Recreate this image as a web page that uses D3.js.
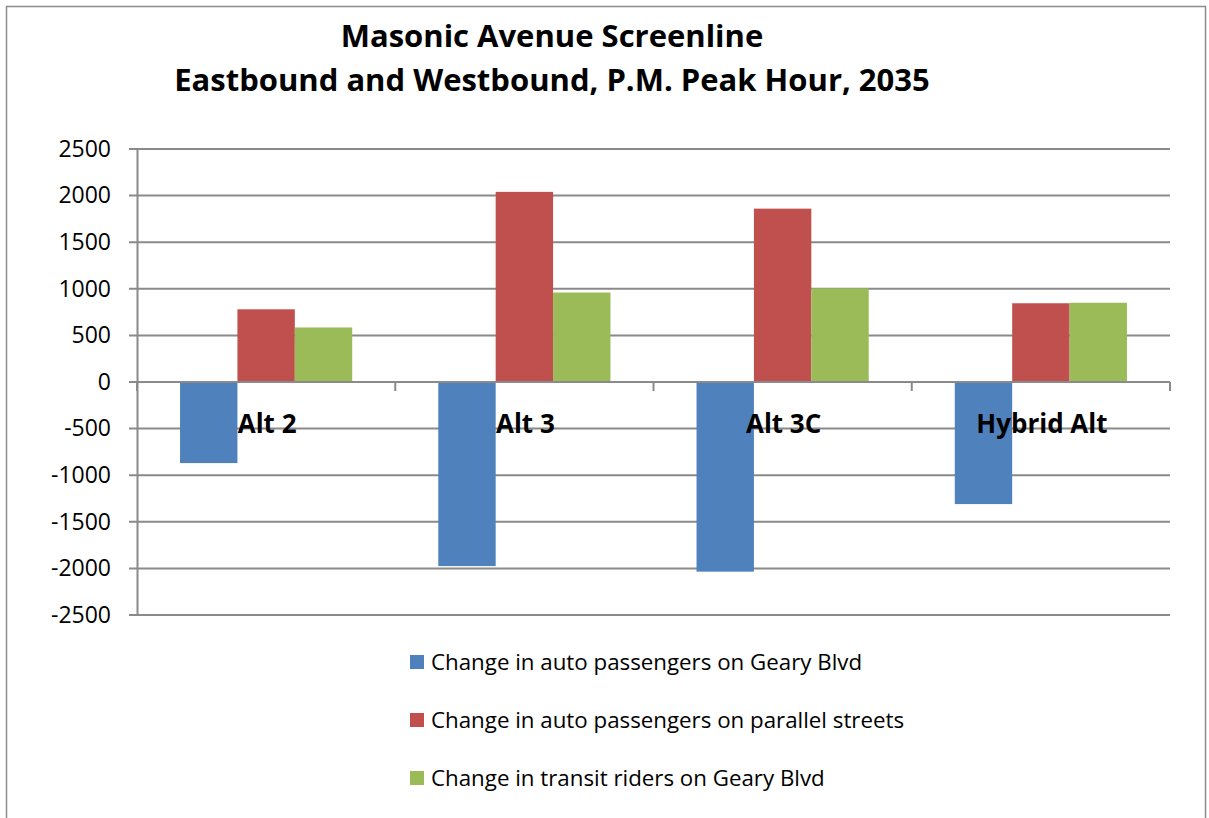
<!DOCTYPE html>
<html>
<head>
<meta charset="utf-8">
<script src="https://cdn.jsdelivr.net/npm/d3@7"></script>
<style>
  body { margin: 0; background: #fff; }
  text { font-family: "Open Sans", sans-serif; }
</style>
</head>
<body>
<div id="chart"></div>
<script>
var categories = ["Alt 2", "Alt 3", "Alt 3C", "Hybrid Alt"];
var series_names = [
  "Change in auto passengers on Geary Blvd",
  "Change in auto passengers on parallel streets",
  "Change in transit riders on Geary Blvd"
];
var auto_geary = [-870, -1975, -2035, -1310];
var auto_parallel = [780, 2040, 1860, 845];
var transit_geary = [585, 960, 1005, 850];
var y_ticks = [2500, 2000, 1500, 1000, 500, 0, -500, -1000, -1500, -2000, -2500];
var title_lines = ["Masonic Avenue Screenline", "Eastbound and Westbound, P.M. Peak Hour, 2035"];

var colors = ["#4F81BD", "#C0504D", "#9BBB59"];
var series = [auto_geary, auto_parallel, transit_geary];

var width = 1209, height = 818;
var plot = { left: 137, right: 1170, top: 149, bottom: 615 };

var svg = d3.select("#chart").append("svg")
  .attr("width", width)
  .attr("height", height);

// outer frame (bottom edge runs off the picture)
svg.append("rect")
  .attr("x", 6.5).attr("y", 6.5)
  .attr("width", 1199).attr("height", 830)
  .attr("fill", "#fff")
  .attr("stroke", "#8c8c8c")
  .attr("stroke-width", 1.5);

var title = svg.append("g").attr("font-weight", "bold").attr("font-size", 31).attr("text-anchor", "middle");
title_lines.forEach(function(line, i) {
  title.append("text").attr("x", 552).attr("y", 47 + i * 44).text(line);
});

var y = d3.scaleLinear().domain([-2500, 2500]).range([plot.bottom, plot.top]);
var x0 = d3.scaleBand().domain(categories).range([plot.left, plot.right]);
var bar_w = x0.bandwidth() / (3 + 1.5);
var x1 = d3.scaleBand().domain(d3.range(3)).range([bar_w * 0.75, bar_w * 3.75]);

// gridlines
svg.append("g").selectAll("line").data(y_ticks).enter().append("line")
  .attr("x1", plot.left - 8).attr("x2", plot.right)
  .attr("y1", function(d) { return y(d); })
  .attr("y2", function(d) { return y(d); })
  .attr("stroke", "#8a8a8a")
  .attr("stroke-width", 2);

// y axis, plain hyphen for negatives
var y_axis = svg.append("g")
  .attr("transform", "translate(" + plot.left + ",0)")
  .call(d3.axisLeft(y).tickValues(y_ticks).tickSize(0).tickPadding(26).tickFormat(function(d) { return String(d); }));
y_axis.select(".domain").attr("stroke", "#8a8a8a").attr("stroke-width", 2);
y_axis.selectAll("text").attr("font-size", 23).attr("font-family", "Open Sans").attr("fill", "#000");

// bars
var groups = svg.append("g").selectAll("g").data(categories).enter().append("g")
  .attr("transform", function(d) { return "translate(" + x0(d) + ",0)"; });

groups.selectAll("rect")
  .data(function(d, ci) { return series.map(function(s, si) { return { si: si, v: s[ci] }; }); })
  .enter().append("rect")
  .attr("x", function(d) { return x1(d.si); })
  .attr("width", x1.bandwidth())
  .attr("y", function(d) { return y(Math.max(0, d.v)); })
  .attr("height", function(d) { return Math.abs(y(d.v) - y(0)); })
  .attr("fill", function(d) { return colors[d.si]; });

// zero axis with category ticks
svg.append("line")
  .attr("x1", plot.left).attr("x2", plot.right)
  .attr("y1", y(0)).attr("y2", y(0))
  .attr("stroke", "#8a8a8a").attr("stroke-width", 2);
var cat_edges = x0.domain().map(function(d) { return x0(d); }).concat([plot.right]);
svg.append("g").selectAll("line").data(cat_edges).enter().append("line")
  .attr("x1", function(d) { return d; }).attr("x2", function(d) { return d; })
  .attr("y1", y(0)).attr("y2", y(0) + 9)
  .attr("stroke", "#8a8a8a").attr("stroke-width", 2);

// category labels sit on the bars
svg.append("g").selectAll("text").data(categories).enter().append("text")
  .attr("x", function(d) { return x0(d) + x0.bandwidth() / 2 + 1; })
  .attr("y", 433)
  .attr("text-anchor", "middle")
  .attr("font-weight", "bold")
  .attr("font-size", 26)
  .text(function(d) { return d; });

// legend
var legend = svg.append("g").selectAll("g").data(series_names).enter().append("g")
  .attr("transform", function(d, i) { return "translate(410," + (662 + i * 58) + ")"; });
legend.append("rect")
  .attr("x", 0).attr("y", -7).attr("width", 14).attr("height", 14)
  .attr("fill", function(d, i) { return colors[i]; });
legend.append("text")
  .attr("x", 21).attr("y", 8)
  .attr("font-size", 22.3)
  .text(function(d) { return d; });
</script>
</body>
</html>
